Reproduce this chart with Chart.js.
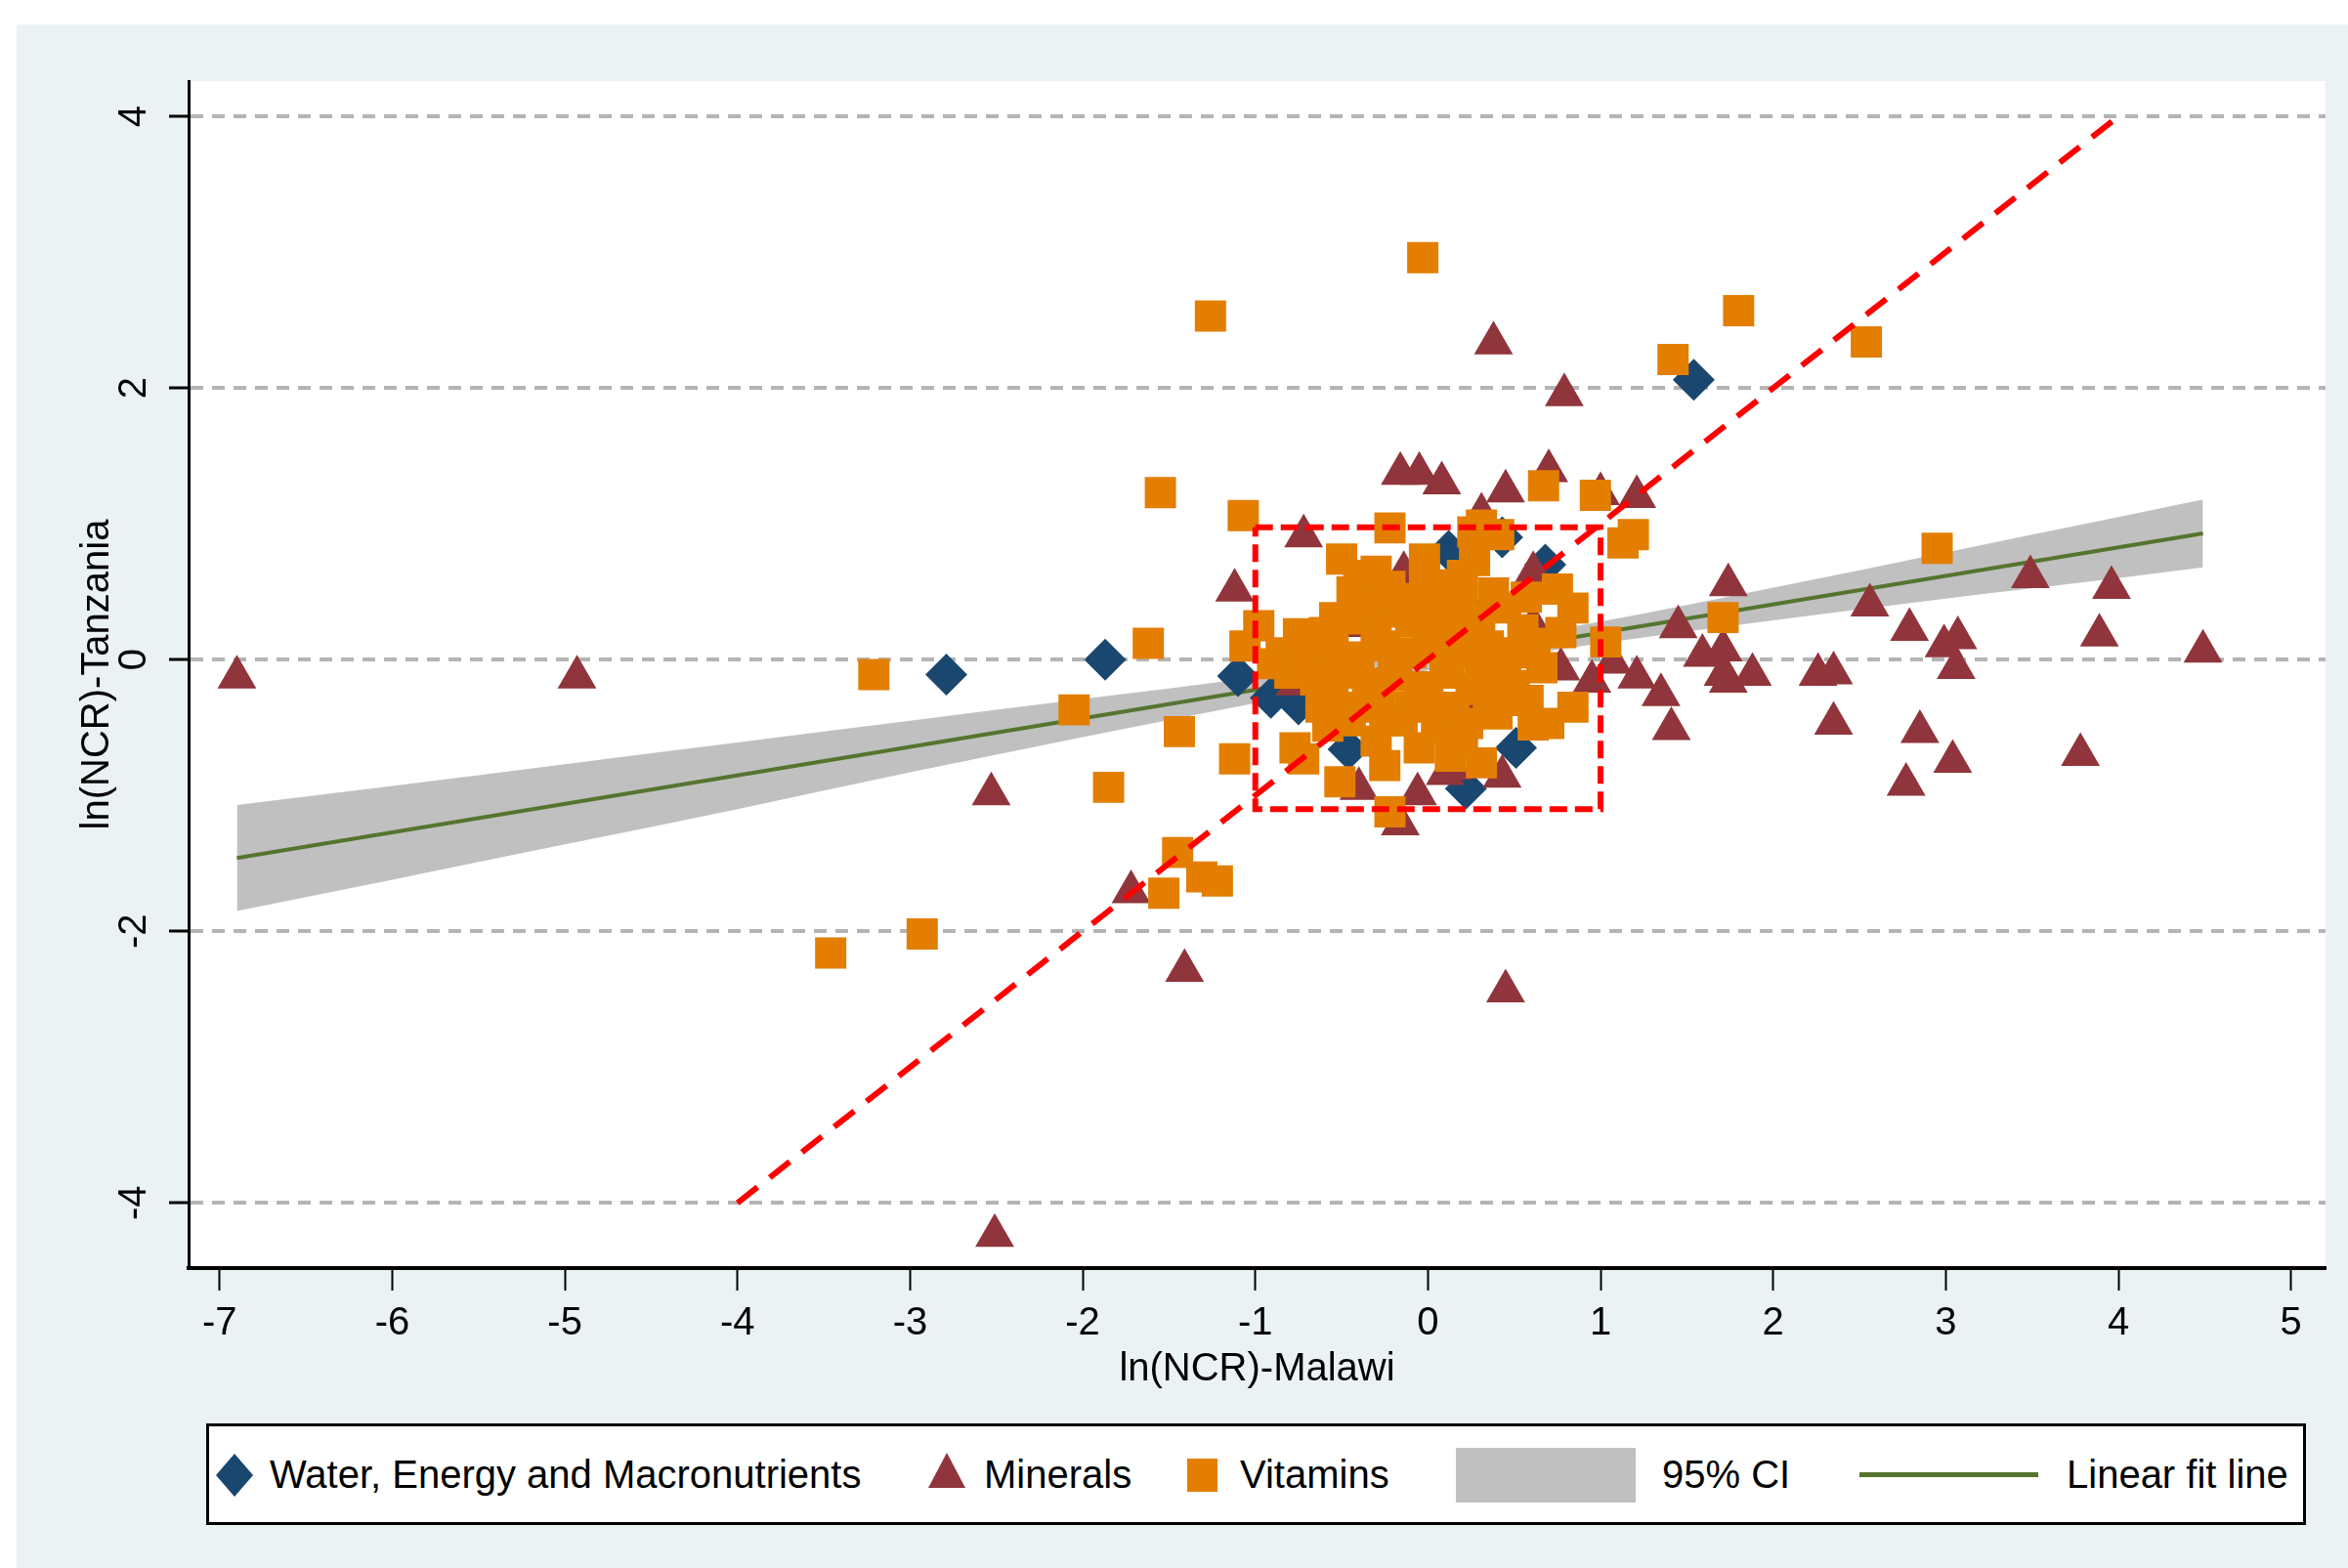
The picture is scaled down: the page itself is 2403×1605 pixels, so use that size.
<!DOCTYPE html>
<html>
<head>
<meta charset="utf-8">
<script src="https://cdn.jsdelivr.net/npm/chart.js@4.4.1/dist/chart.umd.min.js"></script>
<style>
  html, body { margin:0; padding:0; background:#ffffff; width:2403px; height:1605px; overflow:hidden;
    font-family:"Liberation Sans", Arial, sans-serif; }
  #bg { position:absolute; left:17px; top:25px; right:0; bottom:0; background:#EAF2F3; }
  #wrap { position:absolute; left:0; top:0; width:2403px; height:1605px; }
  #legend { position:absolute; left:211px; top:1457px; width:2143px; height:98px; border:3px solid #000;
    background:#ffffff; }
  .lt { position:absolute; top:0; height:98px; line-height:98px; font-size:40px; color:#000; white-space:nowrap; }
  .lm { position:absolute; display:block; }
</style>
</head>
<body>
<div id="bg"></div>
<div id="wrap"><canvas id="c" width="2403" height="1605"></canvas></div>
<div id="legend"></div>
<script>
// ---------------- DATA ----------------
const seriesNames = ['Water, Energy and Macronutrients', 'Minerals', 'Vitamins', '95% CI', 'Linear fit line'];
const xAxisTitle = 'ln(NCR)-Malawi';
const yAxisTitle = 'ln(NCR)-Tanzania';
const xTickValues = [-7, -6, -5, -4, -3, -2, -1, 0, 1, 2, 3, 4, 5];
const yTickValues = [-4, -2, 0, 2, 4];

// Water, Energy and Macronutrients (diamonds)
const waterX = [-2.79, -1.87, -1.10, 1.54, -0.91, -0.83, 0.43, 0.12, 0.68, 0.20, -0.32, 0.22, 0.51, -0.46, 0.44, -0.75, 0.25];
const waterY = [-0.11, 0.00, -0.12, 2.06, -0.28, -0.22, 0.90, 0.80, 0.70, 0.40, 0.43, -0.95, -0.65, -0.66, -0.20, -0.33, -0.30];

// Minerals (triangles)
const mineralsX = [-6.90, -4.93, -2.53, -1.72, -1.41, -2.51, -1.12, 0.38, 0.79, -0.16, -0.05, 0.08, 0.45, 0.70, 1.00, 1.21,
  0.31, -0.72, 0.61, 0.13, 1.45, -0.14, 1.74, 2.56, 3.49, 3.96, 2.79, 2.99, 3.07, 3.06, 3.89, 4.49, 1.59, 1.71, 1.71, 1.74,
  1.88, 2.26, 2.35, 2.35, 2.85, 3.04, 2.77, 3.78, 1.35, 1.41, -0.16, -0.06, 0.43, 0.14, 0.95, 0.77, 1.21, 1.07, -0.77, 0.10,
  0.22, -0.40, 0.45, -0.40, 0.61, -0.60, 0.30, -0.55];
const mineralsY = [-0.13, -0.13, -0.99, -1.71, -2.29, -4.24, 0.51, 2.33, 1.95, 1.37, 1.37, 1.30, 1.24, 1.39, 1.22, 1.20,
  1.07, 0.91, 0.64, 0.39, 0.24, 0.64, 0.55, 0.40, 0.61, 0.53, 0.22, 0.10, 0.16, -0.06, 0.18, 0.06, 0.03, 0.07, -0.11, -0.16,
  -0.11, -0.11, -0.10, -0.47, -0.53, -0.75, -0.92, -0.70, -0.26, -0.51, -1.21, -0.99, -0.86, -0.80, -0.16, -0.07, -0.13, -0.02, -0.18, -0.84,
  -0.32, -0.95, -2.44, 0.25, 0.25, -0.05, 0.10, -0.40];

// Vitamins (squares)
const vitaminsX = [-0.03, -1.26, 1.42, 1.80, 2.54, -1.55, -1.07, 0.67, 0.97, 2.95, 1.71, -3.21, -2.05, -1.62, -1.44, -1.85,
  -1.12, -1.45, -1.31, -1.22, -1.53, -2.93, -3.46, -0.22, 1.03,
  -0.22, 0.31, 0.26, 0.41, 1.19, 1.13, -0.50, -0.30, -0.02, 0.27, 0.38, 0.75, 0.84, 0.57, -0.54, -0.44, -0.22, -0.98, -0.75,
  -1.06, -0.02, -0.02, 0.77, 0.66, 0.50, 0.84, 0.61, 0.70, 0.31, 0.13, -0.25, -0.51, -0.58, -0.77, -0.72, 0.23,
  -0.85, -0.70, -0.55, -0.40, -0.25, -0.10, 0.05, 0.20, 0.35, 0.50, 0.62, -0.65, -0.50, -0.35, -0.20, -0.05, 0.10, 0.25, 0.40,
  -0.80, -0.40, -0.25, -0.10, 0.05, 0.15, 0.30, -0.15, 0.10, -0.40, -0.25, -0.10, 0.05, 0.15, -0.30, -0.05, 0.20,
  -0.60, -0.30, 0.00, 0.25, 0.55, -0.90, -0.48, -0.18, 0.12, 0.30, 0.45, -0.55, -0.28, 0.00, 0.35,
  -0.35, 0.20, 0.45, -0.45, -0.15, 0.40, -0.40, 0.20, 0.10, -0.62, 0.58];
const vitaminsY = [2.96, 2.53, 2.21, 2.57, 2.34, 1.23, 1.06, 1.28, 1.21, 0.82, 0.31, -0.11, -0.37, 0.12, -0.53, -0.94,
  -0.73, -1.42, -1.60, -1.63, -1.72, -2.02, -2.16, -1.12, 0.13,
  0.97, 0.99, 0.94, 0.92, 0.92, 0.86, 0.74, 0.65, 0.74, 0.73, 0.49, 0.52, 0.38, 0.46, 0.31, 0.50, 0.54, 0.25, 0.19,
  0.10, 0.60, 0.45, 0.20, -0.06, -0.19, -0.35, -0.48, -0.47, -0.76, -0.71, -0.78, -0.90, -0.49, -0.65, -0.73, -0.47,
  0.05, 0.00, 0.08, 0.02, 0.10, 0.05, 0.12, 0.05, 0.10, 0.05, 0.12, -0.15, -0.10, -0.18, -0.12, -0.20, -0.10, -0.22, -0.08,
  -0.10, 0.30, 0.35, 0.28, 0.40, 0.25, 0.30, 0.45, 0.55, -0.35, -0.45, -0.35, -0.50, -0.35, -0.60, -0.65, -0.60,
  0.20, 0.20, 0.20, 0.18, 0.22, -0.03, -0.03, -0.03, -0.03, -0.05, -0.03, -0.28, -0.28, -0.30, -0.28,
  0.42, 0.42, 0.38, -0.45, -0.45, -0.40, 0.62, 0.62, 0.15, -0.35, -0.30];

// Linear fit line and its 95% CI band
const fitX = [-6.9, 4.49];
const fitY = [-1.46, 0.93];
const ciX = [-6.9, -6, -5, -4, -3, -2, -1, 0, 1, 2, 3, 4, 4.49];
const ciUpper = [-1.07, -0.93, -0.77, -0.61, -0.45, -0.29, -0.13, 0.06, 0.28, 0.53, 0.79, 1.05, 1.18];
const ciLower = [-1.85, -1.62, -1.36, -1.10, -0.83, -0.57, -0.32, -0.08, 0.12, 0.29, 0.45, 0.60, 0.68];

// 45-degree reference line and highlighted box
const diagX = [-4, 4];
const diagY = [-4, 4];
const boxX = [-1, 1, 1, -1, -1];
const boxY = [0.975, 0.975, -1.10, -1.10, 0.975];

// ---------------- CHART ----------------
const pts = (xs, ys) => xs.map((x, i) => ({ x: x, y: ys[i] }));
const FONT = '"Liberation Sans", Arial, sans-serif';
const COLORS = { water:'#1A476F', minerals:'#90353B', vitamins:'#E37E00', ci:'#C0C0C0', fit:'#55752F', red:'#FF0000' };

const plotBg = {
  id: 'plotBg',
  beforeDraw(chart) {
    const { ctx, chartArea: a } = chart;
    ctx.save();
    ctx.fillStyle = '#ffffff';
    ctx.fillRect(a.left, a.top, a.right - a.left, a.bottom - a.top);
    ctx.restore();
  }
};

new Chart(document.getElementById('c'), {
  type: 'scatter',
  data: {
    datasets: [
      { label: 'diagonal', type: 'line', data: pts(diagX, diagY), borderColor: COLORS.red, borderWidth: 6,
        borderDash: [26, 16], pointRadius: 0, fill: false, order: 0 },
      { label: 'box', type: 'line', data: pts(boxX, boxY), borderColor: COLORS.red, borderWidth: 6,
        borderDash: [18, 8], pointRadius: 0, fill: false, order: 1 },
      { label: seriesNames[2], data: pts(vitaminsX, vitaminsY), pointStyle: 'rect', pointRadius: 22.6,
        backgroundColor: COLORS.vitamins, borderWidth: 0, pointBorderWidth: 0, order: 2 },
      { label: seriesNames[1], data: pts(mineralsX, mineralsY), pointStyle: 'triangle', pointRadius: 23,
        backgroundColor: COLORS.minerals, borderWidth: 0, pointBorderWidth: 0, order: 3 },
      { label: seriesNames[0], data: pts(waterX, waterY), pointStyle: 'rectRot', pointRadius: 21.5,
        backgroundColor: COLORS.water, borderWidth: 0, pointBorderWidth: 0, order: 4 },
      { label: seriesNames[4], type: 'line', data: pts(fitX, fitY), borderColor: COLORS.fit, borderWidth: 4,
        pointRadius: 0, fill: false, order: 5 },
      { label: seriesNames[3] + ' upper', type: 'line', data: pts(ciX, ciUpper), borderWidth: 0, pointRadius: 0,
        backgroundColor: COLORS.ci, fill: '+1', cubicInterpolationMode: 'monotone', order: 6 },
      { label: seriesNames[3] + ' lower', type: 'line', data: pts(ciX, ciLower), borderWidth: 0, pointRadius: 0,
        fill: false, cubicInterpolationMode: 'monotone', order: 7 }
    ]
  },
  options: {
    responsive: false,
    devicePixelRatio: 1,
    animation: false,
    events: [],
    layout: { padding: { left: 0, top: 83, right: 23, bottom: 179 } },
    plugins: { legend: { display: false }, tooltip: { enabled: false } },
    scales: {
      x: {
        type: 'linear', position: 'bottom', min: -7.18, max: 5.20,
        afterBuildTicks: s => { s.ticks = xTickValues.map(v => ({ value: v })); },
        afterFit: s => { s.height = 128; },
        ticks: { autoSkip: false, color: '#000', font: { family: FONT, size: 40 }, padding: 10, maxRotation: 0 },
        grid: { drawOnChartArea: false, drawTicks: true, tickLength: 23, tickColor: '#000', tickWidth: 2 },
        border: { display: true, color: '#000', width: 4 },
        title: { display: true, text: xAxisTitle, color: '#000', font: { family: FONT, size: 40 },
                 padding: { top: 0, bottom: 0 } }
      },
      y: {
        type: 'linear', position: 'left', min: -4.48, max: 4.26,
        afterBuildTicks: s => { s.ticks = yTickValues.map(v => ({ value: v })); },
        afterFit: s => { s.width = 193; },
        ticks: { autoSkip: false, color: '#000', font: { family: FONT, size: 40 }, padding: 17,
                 minRotation: 90, maxRotation: 90, crossAlign: 'center' },
        grid: { drawOnChartArea: true, color: '#B4B4B4', lineWidth: 4, drawTicks: true, tickLength: 20,
                tickColor: '#000', tickWidth: 3 },
        border: { display: true, color: '#000', width: 3, dash: [13, 9] },
        title: { display: true, text: yAxisTitle, color: '#000', font: { family: FONT, size: 40 },
                 padding: { top: 76, bottom: 0 } }
      }
    }
  },
  plugins: [plotBg]
});

// ---------------- LEGEND (HTML) ----------------
const legend = document.getElementById('legend');
const svgNS = 'http://www.w3.org/2000/svg';
function marker(left, top, w, h, shapeFn) {
  const s = document.createElementNS(svgNS, 'svg');
  s.setAttribute('width', w); s.setAttribute('height', h);
  s.setAttribute('class', 'lm');
  s.style.left = left + 'px'; s.style.top = top + 'px';
  s.appendChild(shapeFn(w, h));
  legend.appendChild(s);
}
function poly(points, color) {
  return (w, h) => { const p = document.createElementNS(svgNS, 'polygon');
    p.setAttribute('points', points(w, h)); p.setAttribute('fill', color); return p; };
}
function rectShape(color) {
  return (w, h) => { const r = document.createElementNS(svgNS, 'rect');
    r.setAttribute('x', 0); r.setAttribute('y', 0); r.setAttribute('width', w); r.setAttribute('height', h);
    r.setAttribute('fill', color); return r; };
}
function text(left, str) {
  const d = document.createElement('div');
  d.className = 'lt'; d.style.left = left + 'px'; d.textContent = str; legend.appendChild(d);
}
marker(7, 28, 38, 44, poly((w, h) => `${w/2},0 ${w},${h/2} ${w/2},${h} 0,${h/2}`, COLORS.water));
text(62, seriesNames[0]);
marker(736, 27, 38, 36, poly((w, h) => `${w/2},0 ${w},${h} 0,${h}`, COLORS.minerals));
text(793, seriesNames[1]);
marker(1001, 33, 31, 34, rectShape(COLORS.vitamins));
text(1055, seriesNames[2]);
marker(1276, 22, 184, 56, rectShape(COLORS.ci));
text(1487, seriesNames[3]);
marker(1689, 47, 183, 5, rectShape(COLORS.fit));
text(1901, seriesNames[4]);
</script>
</body>
</html>
